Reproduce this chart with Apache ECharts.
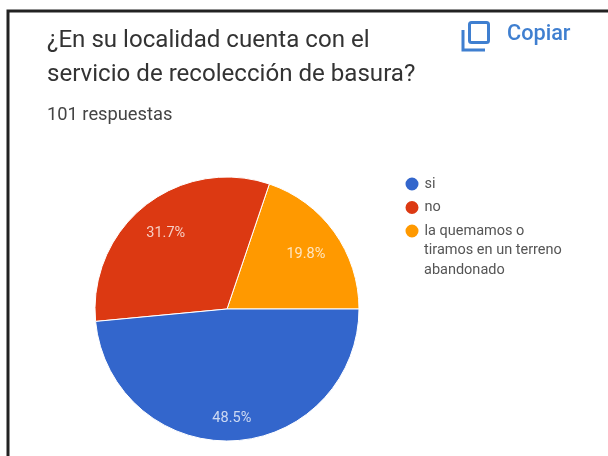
<!DOCTYPE html>
<html><head><meta charset="utf-8">
<style>html,body{margin:0;padding:0;background:#fff}#c{width:608px;height:456px}</style>
<script src="https://cdn.jsdelivr.net/npm/echarts@6/dist/echarts.min.js"></script></head>
<body><div id="c"></div>
<script>
const categories = ["si", "no", "la quemamos o"];
const categoryExtraLines = "tiramos en un terreno\nabandonado";
const values = [48.5, 31.7, 19.8];
const colors = ["#3366cc", "#dc3912", "#ff9900"];
const titleLines = "¿En su localidad cuenta con el\nservicio de recolección de basura?";
const order = [2, 1, 0];
const labelNudge = {si:[0,7], no:[2,4], "la quemamos o":[-4,5]};
const pieData = order.map(i => ({name: categories[i], value: values[i], itemStyle: {color: colors[i]}}));
const chart = echarts.init(document.getElementById('c'));
chart.setOption({
  animation:false,
  title:{text:titleLines,left:47,top:24,padding:0,textStyle:{fontFamily:'Roboto',fontSize:24.1,fontWeight:'normal',color:'#333',lineHeight:34}},
  legend:{orient:'vertical',left:403.5,top:174.5,itemWidth:15,itemHeight:15,icon:'circle',itemGap:4.5,padding:0,selectedMode:false,
    textStyle:{fontFamily:'Roboto',fontSize:14.5,color:'#555',lineHeight:19,padding:[0,0,0,0]},data:categories},
  color:colors,
  series:[
   {type:'pie',center:[227,309],radius:[0,132],startAngle:0,clockwise:false,silent:true,data:pieData,
    itemStyle:{borderColor:'#fff',borderWidth:1},label:{show:false},labelLine:{show:false}},
   {type:'pie',center:[227,309],radius:[66,132],startAngle:0,clockwise:false,silent:true,legendHoverLink:false,
    data:pieData.map(d=>({name:d.name,value:d.value,itemStyle:{color:'transparent'},label:{offset:labelNudge[d.name]}})),
    itemStyle:{borderWidth:0},
    label:{position:'inside',formatter:p=>p.value.toFixed(1)+'%',fontFamily:'Roboto',fontSize:14.5,color:'rgba(255,255,255,0.75)'},
    labelLine:{show:false}}
  ],
  graphic:[
    {type:'text',left:424,top:241,style:{text:categoryExtraLines,font:'14.5px Roboto',lineHeight:19.5,fill:'#555'}},
    {type:'polyline',shape:{points:[[8,456],[8,11],[608,11]]},style:{fill:'none',stroke:'#222',lineWidth:3},silent:true},
    {type:'text',left:47,top:106,style:{text:'101 respuestas',font:'18.3px Roboto',fill:'#444'}},
    {type:'text',left:507,top:24,style:{text:'Copiar',font:'500 21.7px Roboto',fill:'#3f7fd0'}},
    {type:'rect',shape:{x:469.5,y:22.5,width:19,height:20,r:2},style:{fill:'none',stroke:'#3f7fd0',lineWidth:3}},
    {type:'polyline',shape:{points:[[463,30],[463,50],[485,50]]},style:{fill:'none',stroke:'#3f7fd0',lineWidth:3}}
  ]
});
</script></body></html>
